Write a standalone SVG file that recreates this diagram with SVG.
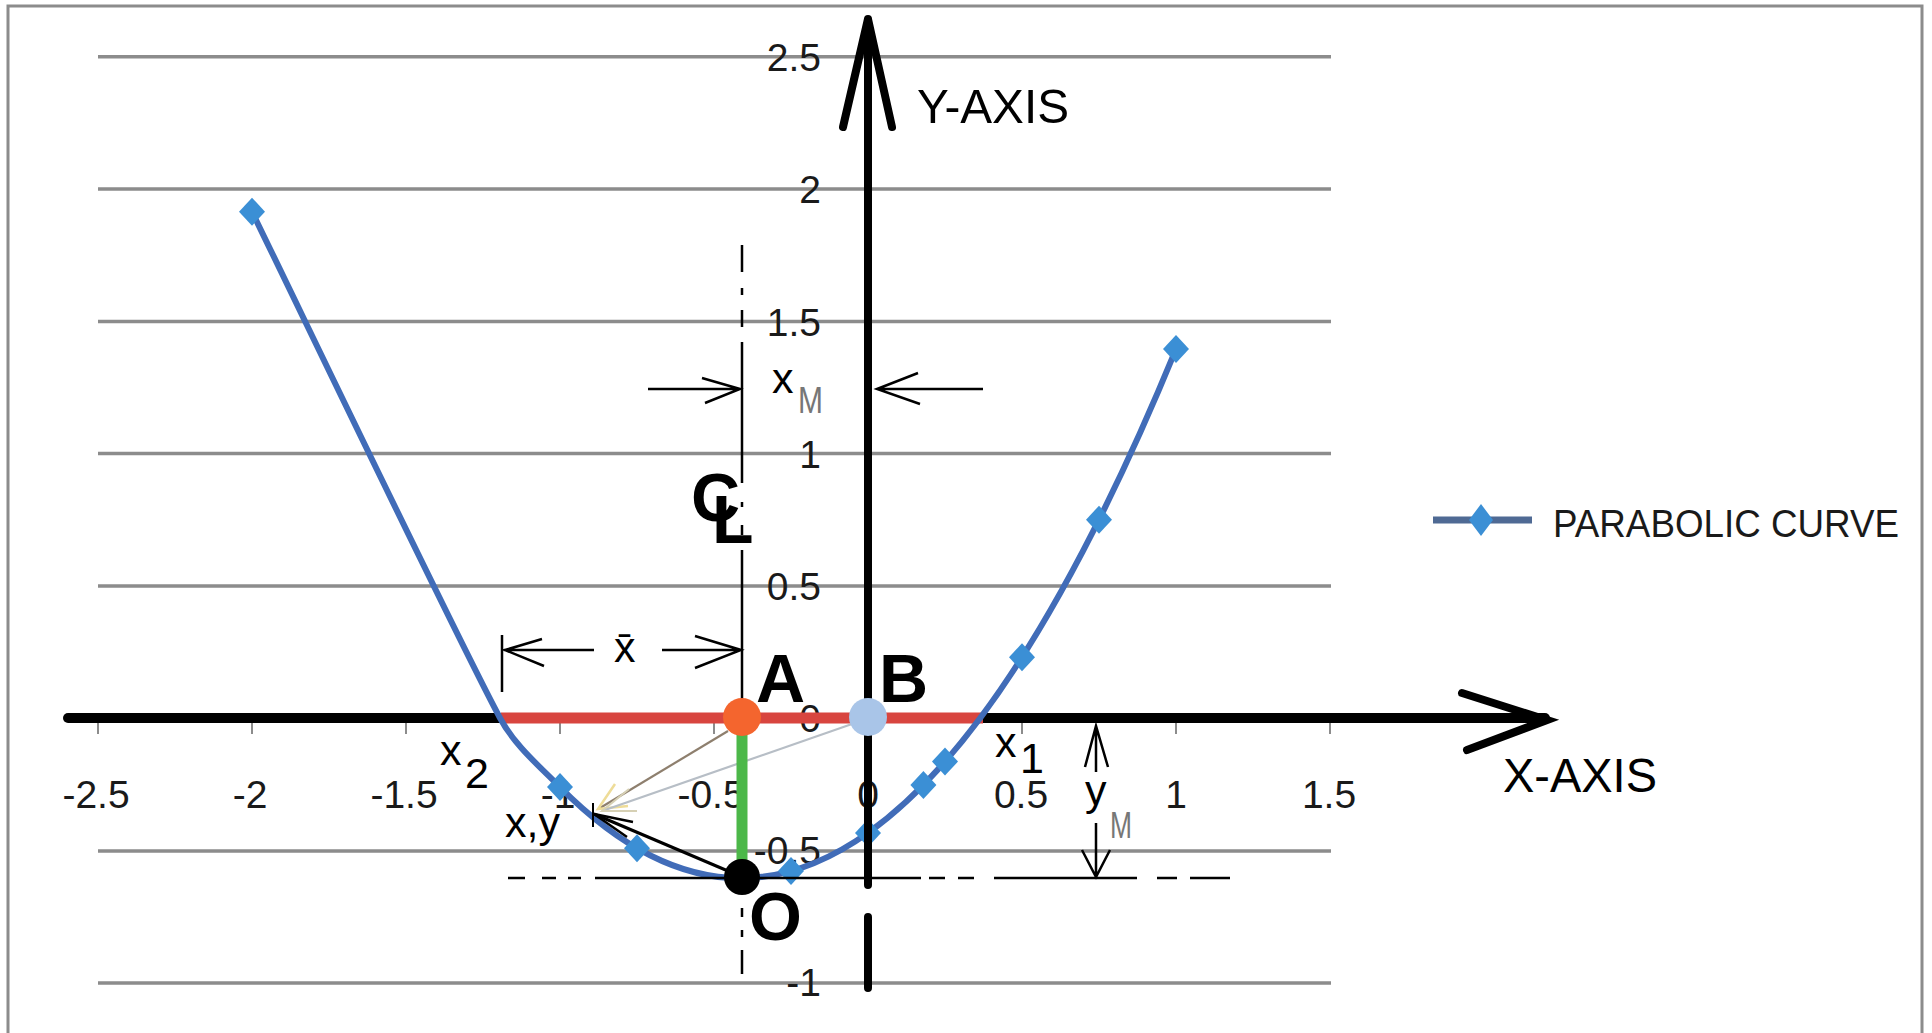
<svg xmlns="http://www.w3.org/2000/svg" width="1932" height="1033" viewBox="0 0 1932 1033">
<style>
.grid{stroke:#8c8c8c;stroke-width:3.5}
.tick{stroke:#8c8c8c;stroke-width:2}
.lbl{font-family:"Liberation Sans",Arial,sans-serif;font-size:39px;fill:#1a1a1a}
.lx{text-anchor:middle}
.ly{text-anchor:end}
.ax{stroke:#000;fill:none;stroke-linecap:round}
.dim{stroke:#000;stroke-width:2.5;fill:none}
.big{font-family:"Liberation Sans",Arial,sans-serif;font-weight:bold;font-size:68px;fill:#000}
.sym{font-family:"Liberation Sans",Arial,sans-serif;font-size:43px;fill:#000}
.sub{font-family:"Liberation Sans",Arial,sans-serif;font-size:37px;fill:#777}
.cap{font-family:"Liberation Sans",Arial,sans-serif;font-size:49px;fill:#000}
.mk{fill:#3b8fd5}
</style>
<defs>
<path id="dm" d="M0,-14 L13,0 L0,14 L-13,0Z"/>
</defs>
<rect width="1932" height="1033" fill="#fff"/>
<g id="frame"><path d="M8,1040 V6 H1922 V1040" fill="none" stroke="#8c8c8c" stroke-width="3"/></g>
<g id="grid">
<path class="grid" d="M98,56.7H1331M98,189H1331M98,321.5H1331M98,453.5H1331M98,586H1331M98,851H1331M98,983H1331"/>
<path class="tick" d="M98,723V734M252,723V734M406,723V734M560,723V734M714,723V734M868,723V734M1022,723V734M1176,723V734M1330,723V734"/>
</g>
<g id="y-labels" class="lbl ly">
<text x="821" y="71">2.5</text>
<text x="821" y="203">2</text>
<text x="821" y="336">1.5</text>
<text x="821" y="468">1</text>
<text x="821" y="600">0.5</text>
<text x="821" y="732">0</text>
<text x="821" y="864">-0.5</text>
<text x="821" y="996">-1</text>
</g>
<g id="x-labels" class="lbl lx">
<text x="96" y="808">-2.5</text>
<text x="250" y="808">-2</text>
<text x="404" y="808">-1.5</text>
<text x="558" y="808">-1</text>
<text x="711" y="808">-0.5</text>
<text x="868" y="808">0</text>
<text x="1021" y="808">0.5</text>
<text x="1176" y="808">1</text>
<text x="1329" y="808">1.5</text>
</g>
<g id="x-axis">
<path class="ax" d="M68,718H1545" stroke-width="10" stroke-linecap="butt"/>
<path class="ax" d="M1462,693L1547,720L1467,750" stroke-width="8" stroke-linejoin="miter"/>
<text class="cap" x="1503" y="792" textLength="154" lengthAdjust="spacingAndGlyphs">X-AXIS</text>
</g>
<g id="chord"><path d="M501,718H983" stroke="#d8453f" stroke-width="11"/></g>
<g id="curve">
<path d="M252,211.7 C293.3,296.1 455.6,635.1 500,718 C514,744.5 538.9,765.8 560,787.1 Q868,1097.7 1176,349.1" fill="none" stroke="#416cb8" stroke-width="6"/>
<g class="mk">
<use href="#dm" x="252" y="211.7"/>
<use href="#dm" x="560" y="787.1"/>
<use href="#dm" x="637" y="848.2"/>
<use href="#dm" x="791" y="871.1"/>
<use href="#dm" x="868" y="832.9"/>
<use href="#dm" x="923.4" y="784.9"/>
<use href="#dm" x="945" y="761.6"/>
<use href="#dm" x="1022" y="657.2"/>
<use href="#dm" x="1099" y="519.7"/>
<use href="#dm" x="1176" y="349.1"/>
</g>
</g>
<g id="y-axis">
<path class="ax" d="M868,19V885M868,917V988" stroke-width="8" stroke-linecap="butt"/>
<path class="ax" d="M843,127L868,19L892,127" stroke-width="8" stroke-linejoin="miter"/>
<text class="cap" x="917" y="123" textLength="152" lengthAdjust="spacingAndGlyphs">Y-AXIS</text>
</g>
<g id="centerlines">
<path class="dim" d="M742,245V272M742,288V295M742,310V327M742,342V483M742,502V507M742,525V535M742,550V700M742,908V917M742,930V937M742,950V974"/>
<path class="dim" d="M508,878H525M542,878H556M568,878H581M595,878H921M929,878H945M958,878H974M994,878H1137M1157,878H1177M1190,878H1230"/>
</g>
<g id="cl-symbol">
<text class="big" x="691" y="521">C</text>
<text class="big" x="712" y="543">L</text>
</g>
<g id="connectors">
<path d="M728,731L600,808" stroke="#8e7f6e" stroke-width="2.2" fill="none"/>
<path d="M628,806L598,809L615,784" stroke="#eedc98" stroke-width="2.5" fill="none"/>
<path d="M852,724L602,811" stroke="#b7bec6" stroke-width="2.2" fill="none"/>
<path d="M637,811L602,811L629,789" stroke="#d6d0b4" stroke-width="2" fill="none"/>
<path d="M728,871L594,814" stroke="#000" stroke-width="3" fill="none"/>
<path d="M627,837L594,814L633,822" stroke="#000" stroke-width="2.5" fill="none"/>
<path d="M593,803V827" stroke="#000" stroke-width="2"/>
<path d="M742,735V860" stroke="#4cb849" stroke-width="11"/>
</g>
<g id="point-A">
<circle cx="742" cy="717" r="19" fill="#f4652e"/>
<text class="big" x="756" y="702">A</text>
</g>
<g id="point-B">
<circle cx="868" cy="717" r="19" fill="#a9c5e8"/>
<text class="big" x="879" y="702">B</text>
</g>
<g id="point-O">
<circle cx="742" cy="877" r="18" fill="#000"/>
<text class="big" x="749" y="940">O</text>
</g>
<g id="dim-xbar">
<path class="dim" d="M502,635V692M504,650H594M542,639L505,650L544,666M662,650H741M695,636L741,650L695,668"/>
<text class="sym" x="614" y="662">x̄</text>
</g>
<g id="dim-xM">
<path class="dim" d="M648,389H740M702,378L740,389L705,403M877,389H983M918,373L877,389L920,404"/>
<text class="sym" x="772" y="393">x</text>
<text class="sub" x="798" y="413" textLength="25" lengthAdjust="spacingAndGlyphs">M</text>
</g>
<g id="dim-yM">
<path class="dim" d="M1096,726V772M1085,767L1096,726L1108,767M1096,823V877M1082,850L1096,877L1110,850"/>
<text class="sym" x="1085" y="805">y</text>
<text class="sub" x="1110" y="838" textLength="22" lengthAdjust="spacingAndGlyphs">M</text>
</g>
<g id="root-labels">
<text class="sym" x="440" y="765">x</text>
<text class="sym" x="465" y="788">2</text>
<text class="sym" x="995" y="757">x</text>
<text class="sym" x="1020" y="773">1</text>
<text class="sym" x="505" y="837">x,y</text>
</g>
<g id="legend">
<path d="M1433,520H1532" stroke="#4f6a94" stroke-width="7"/>
<path d="M1481,504L1493,520L1481,536L1469,520Z" class="mk"/>
<text class="lbl" x="1553" y="537" textLength="346" lengthAdjust="spacingAndGlyphs" fill="#000">PARABOLIC CURVE</text>
</g>
</svg>
